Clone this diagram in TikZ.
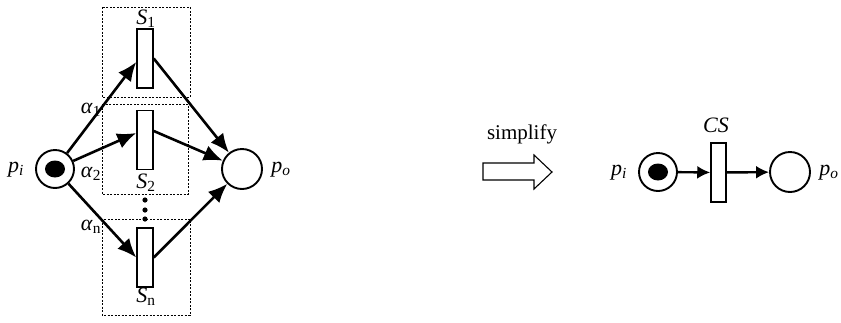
\documentclass[tikz,border=0pt]{standalone}
\usepackage{fontspec}
\setmainfont{Liberation Serif}
\usetikzlibrary{arrows.meta,shapes.geometric}
\tikzset{
  place/.style={circle,draw,line width=1.9pt,inner sep=0pt,minimum size=38pt},
  trans/.style={rectangle,draw,line width=1.5pt,inner sep=0pt,minimum width=16pt,minimum height=59pt,fill=white},
  tok/.style={ellipse,fill=black,inner sep=0pt,minimum width=20pt,minimum height=17pt},
  arc/.style={line width=2.6pt,-{Latex[length=19pt,width=16pt]}},
  arcs/.style={line width=2.4pt,-{Latex[length=13pt,width=13pt]}},
  lbl/.style={font=\fontsize{22}{26}\selectfont,inner sep=0pt},
  grp/.style={draw,line width=0.8pt,dash pattern=on 2pt off 1.5pt}
}
\begin{document}
\begin{tikzpicture}[x=1pt,y=-1pt]
\useasboundingbox (0,0) rectangle (841,322);
% dashed groups
\draw[grp] (102,7) rectangle (190,97);
\draw[grp] (102,104) rectangle (188,194);
\draw[grp] (102,219) rectangle (190,315);
% left net
\node[place] (pi) at (55,169) {};
\node[tok] (tk) at (55,169) {};
\node[place,minimum size=40pt] (po) at (242,169) {};
\node[trans] (s1) at (145,58.5) {};
\node[trans] (s2) at (145,140) {};
\node[trans] (sn) at (145,257.5) {};
\node[lbl] (lpi) at (16,170) {\textit{p\textsubscript{i}}};
\node[lbl] (lpo) at (281,170) {\textit{p\textsubscript{o}}};
\node[lbl] (ls1) at (146,19) {\textit{S}\textsubscript{1}};
\node[lbl] (ls2) at (146,183) {\textit{S}\textsubscript{2}};
\node[lbl] (lsn) at (146,297) {\textit{S}\textsubscript{n}};
\node[lbl] (la1) at (91,110) {\textit{α}\textsubscript{1}};
\node[lbl] (la2) at (91,174) {\textit{α}\textsubscript{2}};
\node[lbl] (lan) at (91,227) {\textit{α}\textsubscript{n}};
\foreach \y [count=\i] in {200,210,219} \fill (145,\y) circle (2.6pt) coordinate (d\i);
\draw[arc] (pi) -- ([yshift=-3.5pt]s1.west);
\draw[arc] (pi) -- ([yshift=7pt]s2.west);
\draw[arc] (pi) -- (sn.west);
\draw[arc] (s1.east) -- (po);
\draw[arc] ([yshift=9pt]s2.east) -- (po);
\draw[arc] (sn.east) -- (po);
% simplify arrow
\node[font=\fontsize{21}{25}\selectfont,inner sep=0pt] (simp) at (522,134) {simplify};
\draw[line width=1.1pt] (483,163) -- (534,163) -- (534,155) -- (552,172) -- (534,189) -- (534,180) -- (483,180) -- cycle;
% right net
\node[place] (qi) at (658,172) {};
\node[tok] (tk2) at (658,172) {};
\node[place,minimum size=40pt] (qo) at (790,172) {};
\node[trans,minimum width=15pt] (cs) at (718.5,172.5) {};
\node[lbl] (lcs) at (716,125) {\textit{CS}};
\node[lbl] (lqi) at (619,173) {\textit{p\textsubscript{i}}};
\node[lbl] (lqo) at (829,173) {\textit{p\textsubscript{o}}};
\draw[arcs] (qi) -- (cs);
\draw[arcs] (cs) -- (qo);
\end{tikzpicture}
\end{document}
